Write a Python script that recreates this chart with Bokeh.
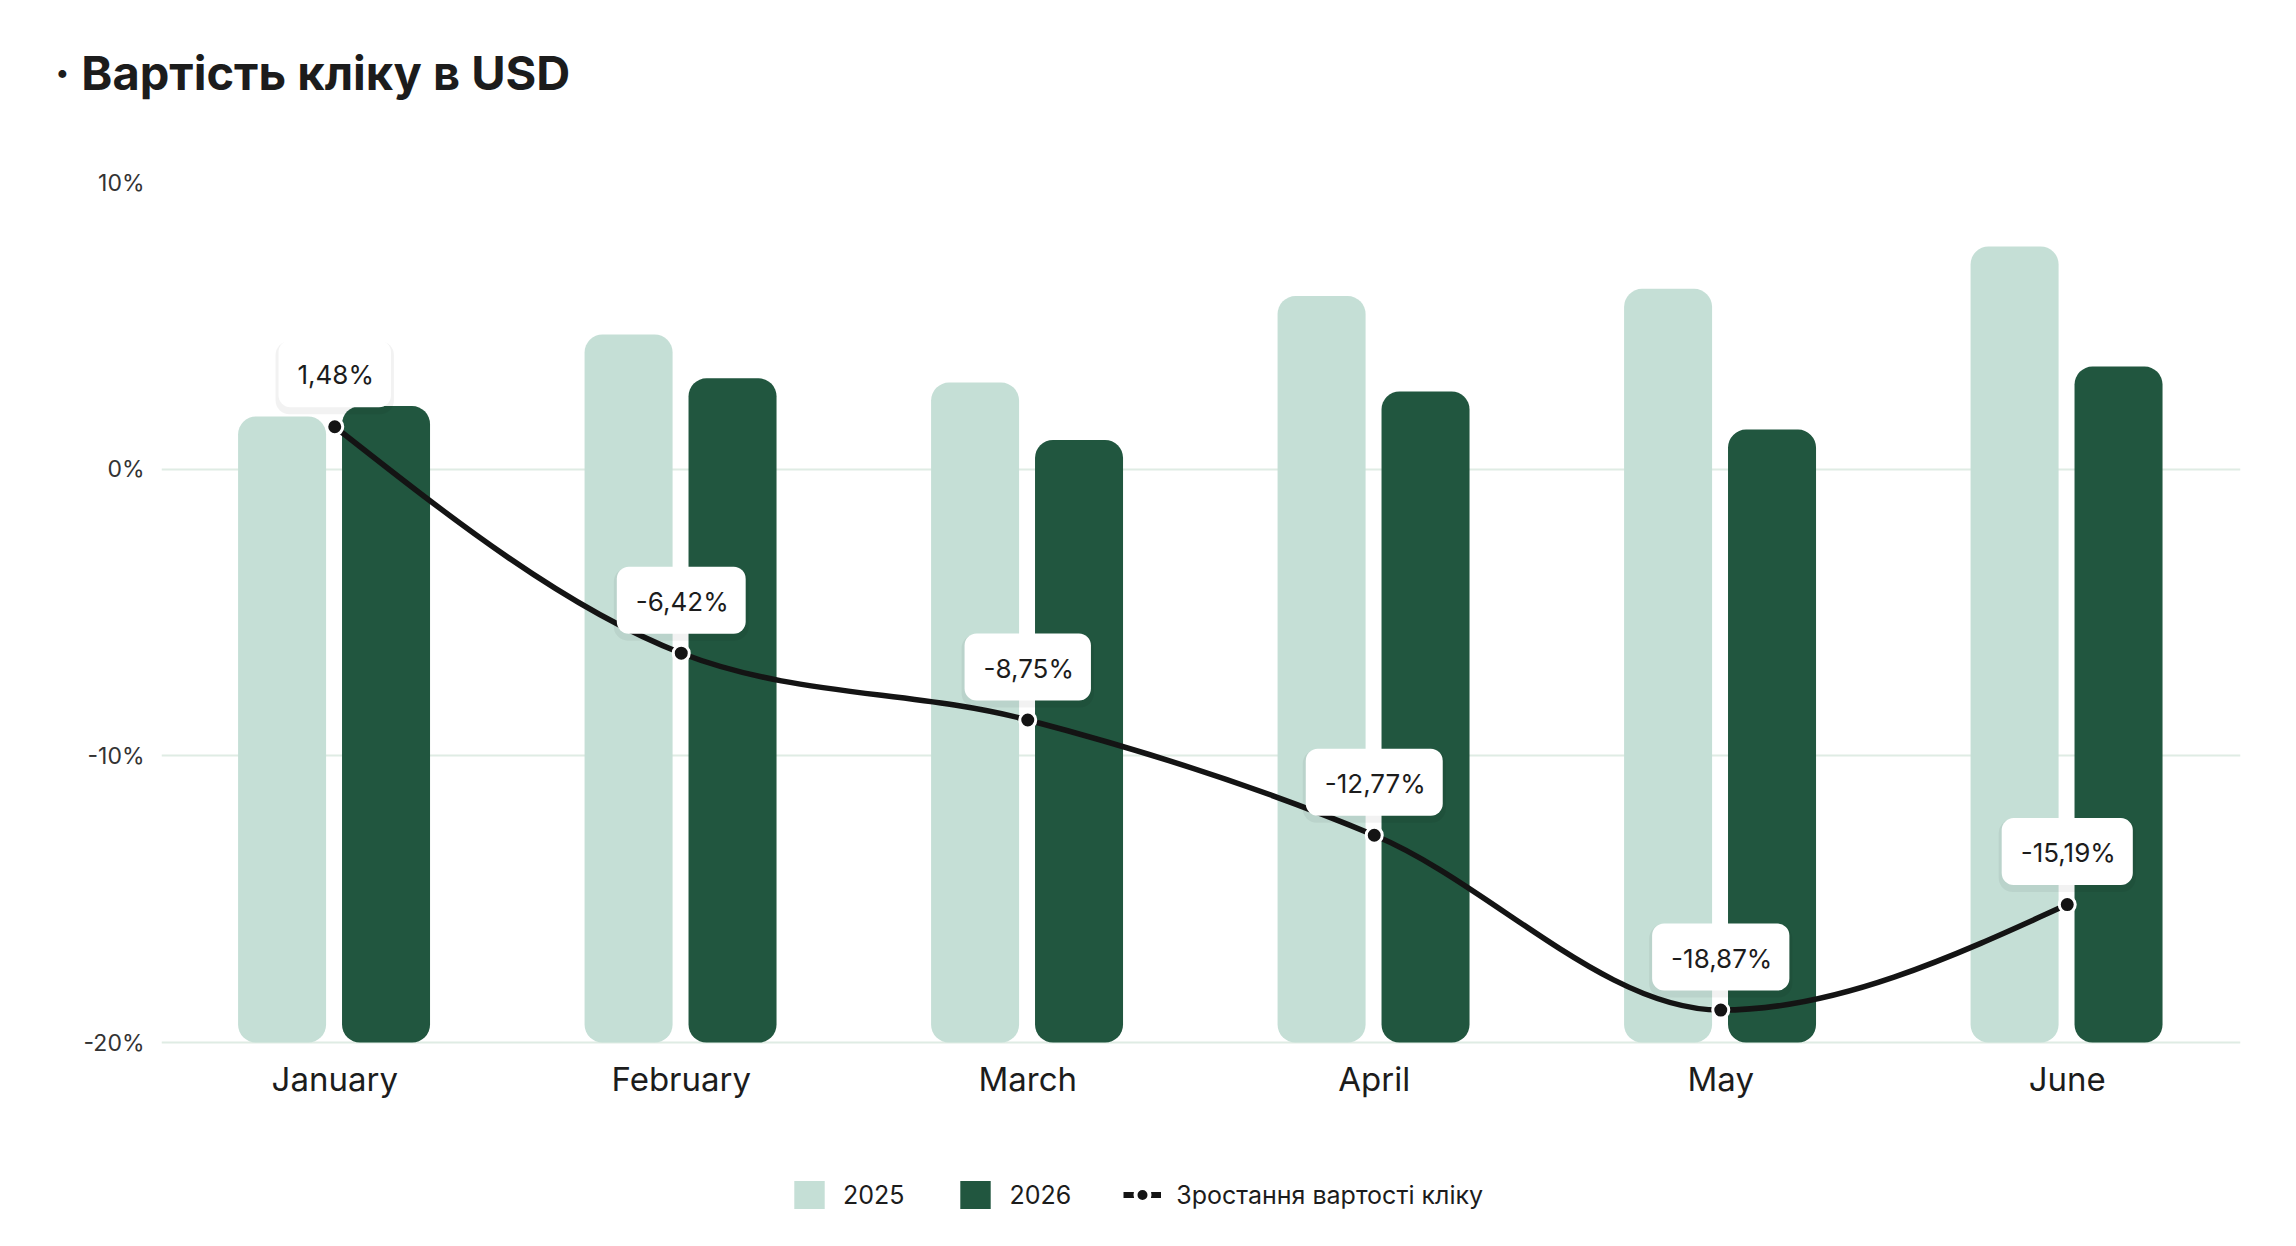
import numpy as np
from bokeh.plotting import figure
from bokeh.models import (ColumnDataSource, FactorRange, Range1d, PrintfTickFormatter,
                          Legend, LegendItem, FixedTicker, Title)
from bokeh.transform import dodge
from bokeh.core.properties import value
from bokeh.embed import file_html
from bokeh.resources import INLINE

# ---------------- data ----------------
months = ["January", "February", "March", "April", "May", "June"]
cpc_2025 = [1.84, 4.70, 3.02, 6.04, 6.29, 7.77]
cpc_2026 = [2.20, 3.17, 1.02, 2.71, 1.38, 3.58]
growth = [1.48, -6.42, -8.75, -12.77, -18.87, -15.19]
growth_labels = ["1,48%", "-6,42%", "-8,75%", "-12,77%", "-18,87%", "-15,19%"]
y_ticks = [-20, -10, 0, 10]
series_names = ["2025", "2026", "Зростання вартості кліку"]
title_text = "·  Вартість кліку в USD"

# ---------------- style / layout ----------------
FONT = "Inter"
LIGHT = "#C5DFD6"
DARK = "#21563F"
LINE = "#141414"
TEXT = "#1c1c1c"
GRID = "#DFECE4"

W, H = 2280, 1230
FRAME_TOP, AXIS_BOTTOM, FRAME_BOTTOM = 182, 1042, 1222
y_min, y_max = y_ticks[0], y_ticks[-1]
px_per_unit = (AXIS_BOTTOM - FRAME_TOP) / (y_max - y_min)
y_start = y_min - (FRAME_BOTTOM - AXIS_BOTTOM) / px_per_unit

src = ColumnDataSource(dict(month=months, c25=cpc_2025, c26=cpc_2026,
                            base=[y_min] * len(months),
                            growth=growth, glabel=growth_labels,
                            tail_top=[g + 1.3 for g in growth]))

p = figure(width=W, height=H, x_range=FactorRange(*months),
           y_range=Range1d(y_start, y_max), output_backend="svg",
           toolbar_location=None, min_border_left=161, min_border_right=40,
           min_border_top=0, min_border_bottom=H - FRAME_BOTTOM)
p.outline_line_color = None
p.background_fill_color = "white"
p.border_fill_color = "white"

# title (outermost) + spacer between title and plot area
p.title.text = title_text
p.title.text_font = FONT
p.title.text_font_size = "47px"
p.title.text_font_style = "bold"
p.title.text_color = TEXT
p.title.offset = -107
p.title.standoff = 82
spacer = Title(text=" ", text_font_size="20px", standoff=17)
p.add_layout(spacer, "above")

# axes
p.yaxis.ticker = FixedTicker(ticks=y_ticks)
p.yaxis.formatter = PrintfTickFormatter(format="%d%%")
p.yaxis.axis_line_color = None
p.yaxis.major_tick_line_color = None
p.yaxis.minor_tick_line_color = None
p.yaxis.major_tick_out = 0
p.yaxis.major_tick_in = 0
p.yaxis.minor_tick_out = 0
p.yaxis.major_label_text_font = FONT
p.yaxis.major_label_text_font_size = "23px"
p.yaxis.major_label_text_color = "#333333"
p.yaxis.major_label_standoff = 17
p.xaxis.visible = False

p.xgrid.grid_line_color = None
p.ygrid.grid_line_color = GRID
p.ygrid.grid_line_width = 2

# bars
b25 = p.vbar(x=dodge("month", -0.152, range=p.x_range), bottom="base", top="c25",
             width=0.254, source=src, fill_color=LIGHT, line_color=None,
             border_radius=18)
b26 = p.vbar(x=dodge("month", 0.148, range=p.x_range), bottom="base", top="c26",
             width=0.254, source=src, fill_color=DARK, line_color=None,
             border_radius=18)

# month labels under the bars
p.text(x="month", y="base", text="month", source=src, y_offset=36,
       text_color=TEXT, text_font=value(FONT), text_font_size="33px",
       text_align="center", text_baseline="middle")

# smooth (monotone cubic) line through growth points
xs = np.arange(len(months)) + 0.5
ys = np.array(growth, dtype=float)
h = np.diff(xs)
s = np.diff(ys) / h
t = np.zeros(len(ys))
for i in range(1, len(ys) - 1):
    s0, s1 = s[i - 1], s[i]
    pp = (s0 * h[i] + s1 * h[i - 1]) / (h[i - 1] + h[i])
    t[i] = (np.sign(s0) + np.sign(s1)) * min(abs(s0), abs(s1), 0.5 * abs(pp))
t[0] = (3 * s[0] - t[1]) / 2
t[-1] = (3 * s[-1] - t[-2]) / 2
bz = ColumnDataSource(dict(
    x0=xs[:-1], y0=ys[:-1], x1=xs[1:], y1=ys[1:],
    cx0=xs[:-1] + h / 3, cy0=ys[:-1] + h * t[:-1] / 3,
    cx1=xs[1:] - h / 3, cy1=ys[1:] - h * t[1:] / 3))
p.bezier(x0="x0", y0="y0", x1="x1", y1="y1", cx0="cx0", cy0="cy0",
         cx1="cx1", cy1="cy1", source=bz, line_color=LINE, line_width=5.5)

# callout tail + boxes
p.vbar(x="month", bottom="growth", top="tail_top", width=0.035, source=src,
       fill_color="white", line_color=None)
p.text(x="month", y="growth", text="glabel", source=src, y_offset=-49,
       text_alpha=0, text_font=value(FONT), text_font_size="26px",
       text_align="center", text_baseline="middle",
       background_fill_color="black", background_fill_alpha=0.05,
       padding=[22, 20, 22, 20], border_radius=14)
p.text(x="month", y="growth", text="glabel", source=src, y_offset=-53,
       text_color=TEXT, text_font=value(FONT), text_font_size="26px",
       text_align="center", text_baseline="middle",
       background_fill_color="white", padding=[19, 17, 19, 17],
       border_radius=12)

pts = p.scatter(x="month", y="growth", source=src, size=16, fill_color=LINE,
                line_color="white", line_width=3)

# legend proxy for the line (one invisible NaN point)
leg_line = p.line(x=[months[0]], y=[float("nan")], line_color=LINE, line_width=6)
leg_pt = p.scatter(x=[months[0]], y=[float("nan")], size=13, fill_color=LINE,
                   line_color="white", line_width=4)

legend = Legend(items=[
    LegendItem(label=series_names[0], renderers=[b25]),
    LegendItem(label=series_names[1], renderers=[b26]),
    LegendItem(label=series_names[2], renderers=[leg_line, leg_pt]),
], orientation="horizontal", location=(629, 10), margin=0,
    label_text_font=FONT, label_text_font_size="25px", label_text_color=TEXT,
    glyph_width=38, glyph_height=35, label_standoff=15, spacing=52,
    border_line_color=None, background_fill_alpha=0)
p.add_layout(legend, "center")

open("out.html", "w").write(file_html(p, INLINE))
